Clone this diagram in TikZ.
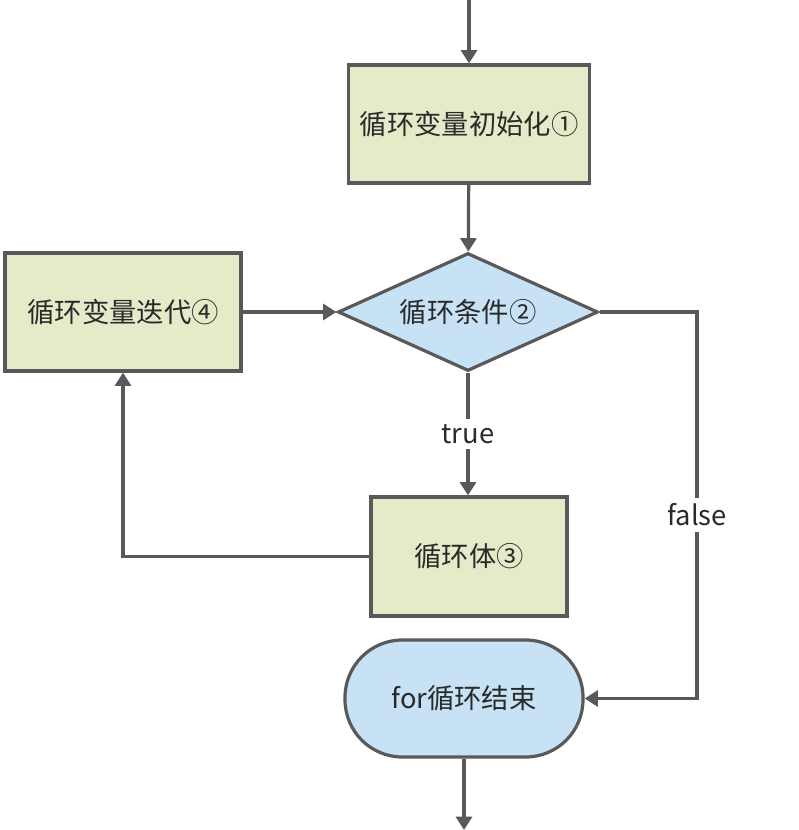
\documentclass[tikz,border=0pt]{standalone}
\usepackage{fontspec}
\usetikzlibrary{arrows.meta, positioning, shapes.geometric}
\newfontfamily\cjk{Noto Sans CJK SC}
\definecolor{stepfill}{HTML}{E5EBC8}
\definecolor{condfill}{HTML}{C6E2F4}
\definecolor{edgecol}{HTML}{595959}
\definecolor{textcol}{HTML}{2A2A2A}

\begin{document}
\begin{tikzpicture}[x=0.75pt, y=-0.75pt,
  box/.style={draw=edgecol, line width=2.4pt, fill=stepfill, inner sep=0pt, align=center, font=\cjk\fontsize{20.5}{24}\selectfont, text=textcol},
  cond/.style={box, diamond, fill=condfill, aspect=2.2, minimum width=195pt, minimum height=88.5pt},
  term/.style={box, fill=condfill, rounded corners=43pt, minimum width=178.5pt, minimum height=87.75pt},
  lbl/.style={font=\cjk\fontsize{20.5}{24}\selectfont, text=textcol, inner sep=4pt},
  arrow/.style={-{Triangle[length=10pt, width=12pt]}, draw=edgecol, line width=2.4pt},
  line/.style={draw=edgecol, line width=2.4pt}
]
\useasboundingbox (0,0) rectangle (798,830);

\node[box, minimum width=180.75pt, minimum height=88.5pt] (init) at (469,124) {循环变量初始化①};
\node[cond] (test) at (468,312) {循环条件②};
\node[box, minimum width=177pt, minimum height=88.5pt] (iter) at (123,312) {循环变量迭代④};
\node[box, minimum width=147pt, minimum height=89.25pt] (body) at (469,556.5) {循环体③};
\node[term] (done) at (464,698.5) {for循环结束};

\node[lbl] (yes) at (468,434) {true};
\node[lbl] (no) at (697,515) {false};

\coordinate (entry) at (469,0);
\coordinate (exit) at (464,830);
\coordinate (turn) at (697,312);

\draw[arrow] (entry) -- (init);
\draw[arrow] (init) -- (test);
\draw[arrow] (iter) -- (test);
\draw[line] (test.south) -- (yes);
\draw[arrow] (yes) -- (yes |- body.north);
\draw[arrow] (body.west) -| (iter.south);
\draw[line] (test.east) -- (turn) -- (no);
\draw[arrow] (no) |- (done.east);
\draw[arrow] (done) -- (exit);
\end{tikzpicture}
\end{document}
